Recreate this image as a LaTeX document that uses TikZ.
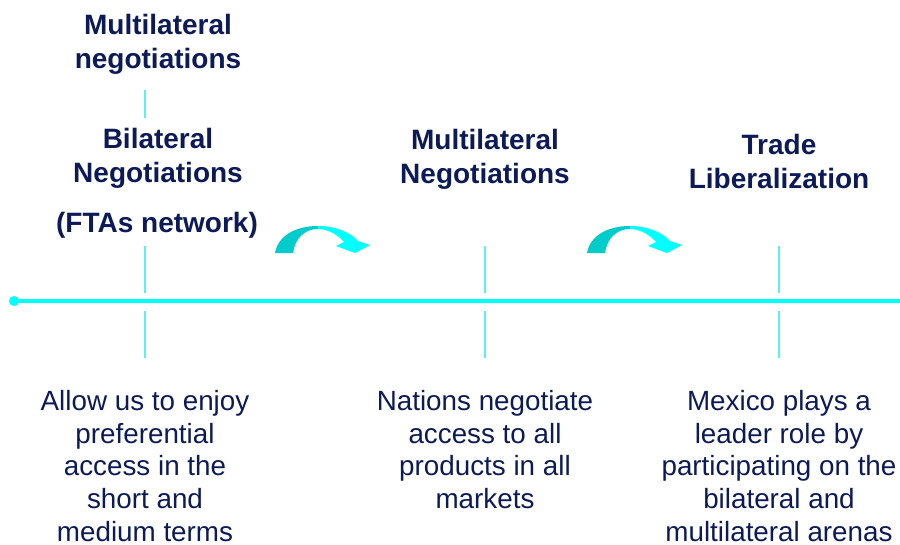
\documentclass[tikz,border=0pt]{standalone}
\usepackage{fontspec}
\setmainfont{Liberation Sans}
\definecolor{navy}{RGB}{12,26,88}
\definecolor{tealdark}{RGB}{0,204,204}
\definecolor{cyanline}{RGB}{0,255,255}
\definecolor{ticklight}{RGB}{90,240,250}
\tikzset{
  head/.style={font=\fontsize{28}{34}\selectfont\bfseries, text=navy, align=center, anchor=north, inner sep=0pt},
  desc/.style={font=\fontsize{27.8}{32.8}\selectfont, text=navy, align=center, anchor=north, inner sep=0pt},
  tickline/.style={draw=ticklight, line width=2pt},
  curvedarrow/.pic={
    \fill[tealdark] (0,0) .. controls (3,-17) and (20,-27) .. (43,-27)
      -- (43,-24) .. controls (30,-24) and (20,-15) .. (18,0) -- cycle;
    \fill[cyanline] (43,-27) .. controls (60,-27) and (75,-21) .. (83,-12)
      -- (95,-8) -- (80,0) -- (61,-7) -- (69,-11)
      .. controls (63,-18) and (53,-24) .. (43,-24) -- cycle;
  }
}
\begin{document}
\begin{tikzpicture}[x=1pt,y=-1pt]
\useasboundingbox (0,0) rectangle (900,544);
% timeline
\coordinate (tlstart) at (14,301);
\coordinate (tlend) at (900,301);
\draw[cyanline, line width=4pt] (tlstart) -- (tlend);
\fill[cyanline] (tlstart) circle (5);
% ticks
\draw[tickline] (145,90) -- (145,118);
\foreach \x in {145,485,779}{
  \draw[tickline] (\x,246) -- (\x,293);
  \draw[tickline] (\x,311) -- (\x,358);
}
% headings
\node[head] (multitop) at (158,14) {Multilateral\\negotiations};
\node[head] (bilat) at (158,128) {Bilateral\\Negotiations};
\node[head] (ftas) at (157,212) {(FTAs network)};
\node[head] (multimid) at (485,129) {Multilateral\\Negotiations};
\node[head] (trade) at (779,134) {Trade\\Liberalization};
% curved arrows
\pic at (275,253) {curvedarrow};
\pic at (587,253) {curvedarrow};
% descriptions
\node[desc] (allow) at (145,390) {Allow us to enjoy\\preferential\\access in the\\short and\\medium terms};
\node[desc] (nations) at (485,390) {Nations negotiate\\access to all\\products in all\\markets};
\node[desc] (mexico) at (779,390) {Mexico plays a\\leader role by\\participating on the\\bilateral and\\multilateral arenas};
\end{tikzpicture}
\end{document}
